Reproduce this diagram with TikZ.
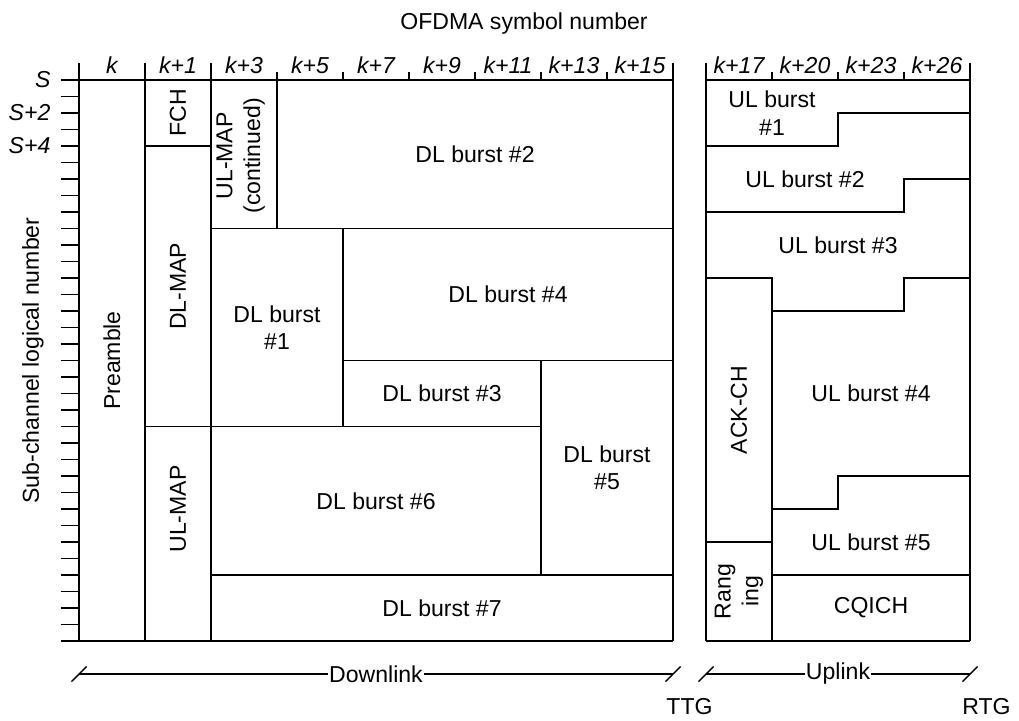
\documentclass[tikz,border=0pt]{standalone}
\usepackage{fontspec}
\setmainfont{Liberation Sans}
\begin{document}
\begin{tikzpicture}[x=1.65cm,y=-0.4125cm,line width=1.15pt,
  every node/.style={font=\fontsize{16.4}{19.7}\selectfont},
  cell/.style={align=center},
  vcell/.style={align=center,rotate=90},
  axlabel/.style={font=\fontsize{16.4}{19.7}\selectfont\itshape},
  dimtext/.style={fill=white,inner sep=1pt}]
\useasboundingbox (-1.197,-4.848) rectangle (14.242,38.788);

% frames
\draw (-0.273,0) -- (9,0);
\draw (-0.273,34) -- (9,34);
\foreach \x in {0,1,2,9,9.5,13.5} \draw (\x,-1) -- (\x,34);
\draw (9.5,0) -- (13.5,0);
\draw (9.5,34) -- (13.5,34);
\foreach \x in {3,...,8,10.5,11.5,12.5} \draw (\x,-0.5) -- (\x,0);
\foreach \r in {1,...,33} \draw (-0.273,\r) -- (0,\r);

% axis labels
\foreach \lab [count=\i from 0] in {k,k+1,k+3,k+5,k+7,k+9,k+11,k+13,k+15}
  \node[axlabel] (sym\i) at (\i+0.5,-0.9) {\lab};
\foreach \lab [count=\i from 0] in {k+17,k+20,k+23,k+26}
  \node[axlabel] (usym\i) at (\i+10,-0.9) {\lab};
\node[axlabel,anchor=east] (sub0) at (-0.35,0) {S};
\node[axlabel,anchor=east] (sub2) at (-0.35,2) {S+2};
\node[axlabel,anchor=east] (sub4) at (-0.35,4) {S+4};
\node (title) at (6.742,-3.45) {OFDMA symbol number};
\node[rotate=90] (ylabel) at (-0.697,17) {Sub-channel logical number};

% downlink
\draw (1,4) -- (2,4);
\draw (1,21) -- (2,21);
\draw (3,0) -- (3,9);
\draw (2,9) -- (9,9);
\draw (4,9) -- (4,21);
\draw (4,17) -- (9,17);
\draw (2,21) -- (7,21);
\draw (7,17) -- (7,30);
\draw (2,30) -- (9,30);

\node[vcell] (pre) at (0.5,17) {Preamble};
\node[vcell] (fch) at (1.5,2) {FCH};
\node[vcell] (dlmap) at (1.5,12.5) {DL-MAP};
\node[vcell] (ulmap) at (1.5,26) {UL-MAP};
\node[vcell] (ulmapc) at (2.45,4.6) {UL-MAP\\(continued)};
\node[cell] (dl2) at (6,4.5) {DL burst \#2};
\node[cell] (dl1) at (3,15) {DL burst\\\#1};
\node[cell] (dl4) at (6.5,13) {DL burst \#4};
\node[cell] (dl3) at (5.5,19) {DL burst \#3};
\node[cell] (dl5) at (8,23.5) {DL burst\\\#5};
\node[cell] (dl6) at (4.5,25.5) {DL burst \#6};
\node[cell] (dl7) at (5.5,32) {DL burst \#7};

% uplink
\draw (9.5,4) -- (11.5,4) -- (11.5,2) -- (13.5,2);
\draw (9.5,8) -- (12.5,8) -- (12.5,6) -- (13.5,6);
\draw (9.5,12) -- (10.5,12) -- (10.5,14) -- (12.5,14) -- (12.5,12) -- (13.5,12);
\draw (10.5,14) -- (10.5,34);
\draw (10.5,26) -- (11.5,26) -- (11.5,24) -- (13.5,24);
\draw (9.5,28) -- (10.5,28);
\draw (10.5,30) -- (13.5,30);

\node[cell] (ul1) at (10.5,2) {UL burst\\\#1};
\node[cell] (ul2) at (11,6) {UL burst \#2};
\node[cell] (ul3) at (11.5,10) {UL burst \#3};
\node[cell] (ul4) at (12,19) {UL burst \#4};
\node[cell] (ul5) at (12,28) {UL burst \#5};
\node[cell] (cqich) at (12,32) {CQICH};
\node[vcell] (ack) at (10,20) {ACK-CH};
\node[vcell] (rng) at (10,31) {Rang\\ing};

% downlink / uplink spans
\coordinate (dlL) at (0,36);
\coordinate (dlR) at (9,36);
\coordinate (ulL) at (9.5,36);
\coordinate (ulR) at (13.5,36);
\draw[line width=1pt] (dlL) -- node[dimtext] (dltext) {Downlink} (dlR);
\draw[line width=1pt] (ulL) -- node[dimtext] (ultext) {Uplink} (ulR);
\foreach \c in {dlL,dlR,ulL,ulR}
  \draw[line width=1pt] ([shift={(-0.114,0.4545)}]\c) -- ([shift={(0.114,-0.4545)}]\c);
\node (ttg) at (9.25,38) {TTG};
\node (rtg) at (13.75,38) {RTG};
\end{tikzpicture}
\end{document}
